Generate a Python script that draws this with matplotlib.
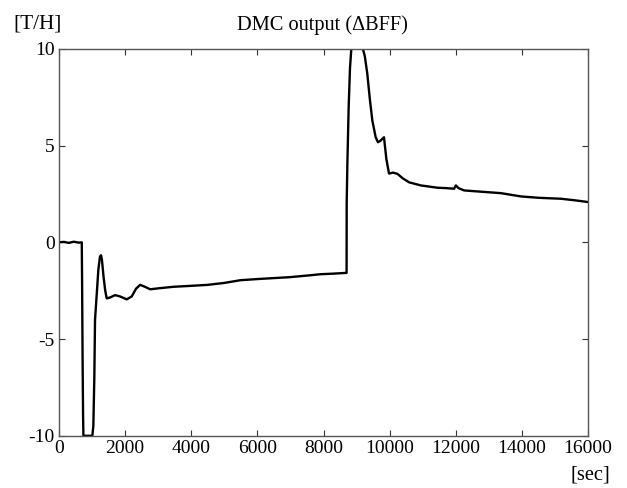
import matplotlib
matplotlib.use("Agg")
import matplotlib.pyplot as plt

# time [sec]
t = [0, 150, 300, 450, 600, 690, 700, 715, 730, 740, 1010, 1040, 1070, 1091,
     1150, 1192, 1240, 1273, 1300, 1350, 1400, 1444, 1550, 1697, 1850, 2050,
     2200, 2330, 2455, 2600, 2760, 3000, 3460, 4000, 4500, 5000, 5485, 6000,
     6500, 7000, 7500, 7909, 8300, 8697, 8700, 8720, 8760, 8800, 8840, 9190,
     9250, 9324, 9400, 9475, 9576, 9646, 9720, 9828, 9900, 9980, 10100, 10232,
     10400, 10586, 10939, 11444, 11700, 11949, 12000, 12080, 12252, 12960,
     13364, 13970, 14500, 15182, 15600, 16000]
# DMC output [T/H]
y = [0.0, 0.02, -0.03, 0.03, -0.02, 0.0, -2.0, -6.0, -9.0, -10.0, -10.0, -9.5,
     -7.0, -4.0, -2.5, -1.4, -0.75, -0.67, -0.9, -1.8, -2.5, -2.9, -2.85, -2.73,
     -2.8, -2.95, -2.8, -2.4, -2.2, -2.3, -2.43, -2.38, -2.3, -2.25, -2.2, -2.1,
     -1.96, -1.9, -1.85, -1.8, -1.72, -1.65, -1.62, -1.58, 2.0, 4.0, 7.0, 9.0,
     10.0, 10.0, 9.6, 8.7, 7.4, 6.3, 5.43, 5.17, 5.25, 5.43, 4.3, 3.55, 3.6,
     3.54, 3.3, 3.1, 2.94, 2.82, 2.8, 2.77, 2.94, 2.8, 2.68, 2.59, 2.54, 2.37,
     2.3, 2.25, 2.17, 2.08]

xticks = [0, 2000, 4000, 6000, 8000, 10000, 12000, 14000, 16000]
yticks = [-10, -5, 0, 5, 10]

plt.rcParams['font.family'] = ['Liberation Serif', 'DejaVu Serif']

fig = plt.figure(figsize=(6.27, 4.88), dpi=100)
ax = fig.add_axes([0.094, 0.107, 0.844, 0.793])
ax.plot(t, y, color='black', lw=1.7)
ax.set_xlim(0, 16000)
ax.set_ylim(-10, 10)
ax.set_xticks(xticks)
ax.set_yticks(yticks)
ax.set_xticklabels([str(v) for v in xticks])
ax.set_yticklabels([str(v) for v in yticks])
ax.tick_params(direction='in', length=4, width=0.8, top=True, right=True,
               labelsize=14, colors='#333333', labelcolor='black')
ax.tick_params(axis='x', pad=3)
ax.tick_params(axis='y', pad=3)
for s in ax.spines.values():
    s.set_color('#555555')
    s.set_linewidth(1.0)

fig.text(0.515, 0.949, 'DMC output (\u0394BFF)', ha='center', va='center', fontsize=14.7)
fig.text(0.022, 0.951, '[T/H]', ha='left', va='center', fontsize=15.3)
fig.text(0.973, 0.026, '[sec]', ha='right', va='center', fontsize=14.7)

fig.savefig('out.png', dpi=100)
